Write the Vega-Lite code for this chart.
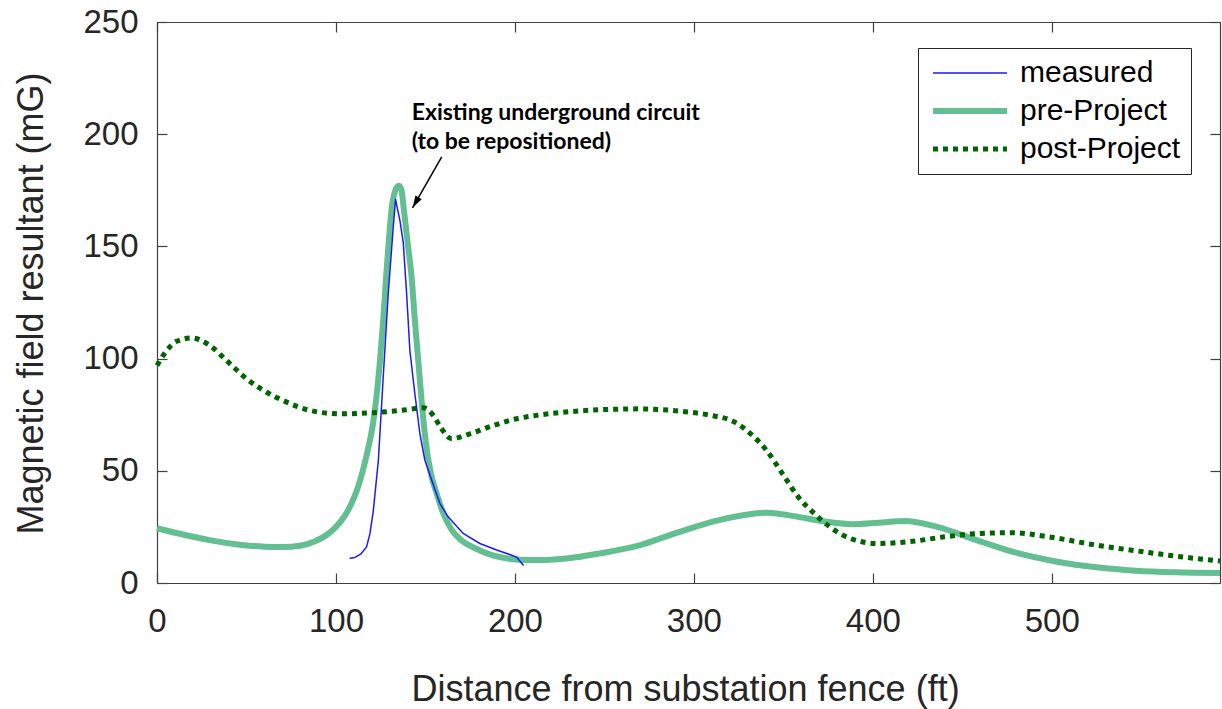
{
  "$schema": "https://vega.github.io/schema/vega-lite/v6.json",
  "width": 1063,
  "height": 561,
  "autosize": {"type": "none"},
  "padding": {"left": 157, "top": 22, "right": 2, "bottom": 126},
  "background": "white",
  "config": {
    "view": {"stroke": null},
    "axis": {
      "grid": false,
      "labelFlush": false,
      "labelOverlap": false,
      "domainColor": "#404040",
      "domainWidth": 1.2,
      "tickColor": "#404040",
      "tickWidth": 1.2,
      "tickSize": -10,
      "labelFont": "Liberation Sans",
      "labelFontSize": 33,
      "labelColor": "#262626",
      "titleFont": "Liberation Sans",
      "titleFontSize": 36,
      "titleFontWeight": "normal",
      "titleColor": "#262626"
    }
  },
  "datasets": {
    "pre": [
      {"series": "pre-Project", "distance": 0, "field": 24.4},
      {"series": "pre-Project", "distance": 15, "field": 21.5},
      {"series": "pre-Project", "distance": 30, "field": 19},
      {"series": "pre-Project", "distance": 45, "field": 17.2},
      {"series": "pre-Project", "distance": 60, "field": 16.2},
      {"series": "pre-Project", "distance": 70, "field": 16},
      {"series": "pre-Project", "distance": 80, "field": 16.6},
      {"series": "pre-Project", "distance": 88, "field": 18.5},
      {"series": "pre-Project", "distance": 95, "field": 21.5},
      {"series": "pre-Project", "distance": 100, "field": 25},
      {"series": "pre-Project", "distance": 105, "field": 30},
      {"series": "pre-Project", "distance": 109, "field": 36},
      {"series": "pre-Project", "distance": 112, "field": 42},
      {"series": "pre-Project", "distance": 115, "field": 50},
      {"series": "pre-Project", "distance": 118, "field": 60},
      {"series": "pre-Project", "distance": 120.5, "field": 70},
      {"series": "pre-Project", "distance": 122.5, "field": 82},
      {"series": "pre-Project", "distance": 124.6, "field": 99},
      {"series": "pre-Project", "distance": 126.5, "field": 118},
      {"series": "pre-Project", "distance": 128, "field": 136},
      {"series": "pre-Project", "distance": 129.5, "field": 152},
      {"series": "pre-Project", "distance": 131, "field": 166},
      {"series": "pre-Project", "distance": 133, "field": 174.5},
      {"series": "pre-Project", "distance": 135, "field": 177},
      {"series": "pre-Project", "distance": 136.5, "field": 175.5},
      {"series": "pre-Project", "distance": 138, "field": 166},
      {"series": "pre-Project", "distance": 140, "field": 152},
      {"series": "pre-Project", "distance": 142.3, "field": 136},
      {"series": "pre-Project", "distance": 144, "field": 118},
      {"series": "pre-Project", "distance": 146, "field": 99},
      {"series": "pre-Project", "distance": 148, "field": 80},
      {"series": "pre-Project", "distance": 150.3, "field": 62},
      {"series": "pre-Project", "distance": 153, "field": 49},
      {"series": "pre-Project", "distance": 156.2, "field": 40},
      {"series": "pre-Project", "distance": 160, "field": 31},
      {"series": "pre-Project", "distance": 164, "field": 24.5},
      {"series": "pre-Project", "distance": 170, "field": 19},
      {"series": "pre-Project", "distance": 177, "field": 15.8},
      {"series": "pre-Project", "distance": 185, "field": 13},
      {"series": "pre-Project", "distance": 195, "field": 11},
      {"series": "pre-Project", "distance": 205, "field": 10.3},
      {"series": "pre-Project", "distance": 215, "field": 10.2},
      {"series": "pre-Project", "distance": 230, "field": 11},
      {"series": "pre-Project", "distance": 247.5, "field": 13.2},
      {"series": "pre-Project", "distance": 270, "field": 16.9},
      {"series": "pre-Project", "distance": 292, "field": 22.8},
      {"series": "pre-Project", "distance": 314, "field": 28},
      {"series": "pre-Project", "distance": 330, "field": 30.5},
      {"series": "pre-Project", "distance": 341, "field": 31.3},
      {"series": "pre-Project", "distance": 358, "field": 29.5},
      {"series": "pre-Project", "distance": 374, "field": 27.3},
      {"series": "pre-Project", "distance": 389, "field": 26.2},
      {"series": "pre-Project", "distance": 403, "field": 26.8},
      {"series": "pre-Project", "distance": 418, "field": 27.6},
      {"series": "pre-Project", "distance": 436, "field": 25},
      {"series": "pre-Project", "distance": 458, "field": 19.1},
      {"series": "pre-Project", "distance": 480, "field": 13.5},
      {"series": "pre-Project", "distance": 503, "field": 9.5},
      {"series": "pre-Project", "distance": 525, "field": 7},
      {"series": "pre-Project", "distance": 547, "field": 5.5},
      {"series": "pre-Project", "distance": 569, "field": 4.8},
      {"series": "pre-Project", "distance": 594, "field": 4.5}
    ],
    "post": [
      {"series": "post-Project", "distance": 0, "field": 96.9},
      {"series": "post-Project", "distance": 5.4, "field": 103.6},
      {"series": "post-Project", "distance": 11, "field": 107.7},
      {"series": "post-Project", "distance": 19.4, "field": 109.2},
      {"series": "post-Project", "distance": 29.6, "field": 105.8},
      {"series": "post-Project", "distance": 38.9, "field": 99.1},
      {"series": "post-Project", "distance": 50.1, "field": 91},
      {"series": "post-Project", "distance": 61.3, "field": 85},
      {"series": "post-Project", "distance": 72.5, "field": 80.6},
      {"series": "post-Project", "distance": 85.5, "field": 76.9},
      {"series": "post-Project", "distance": 102, "field": 75.4},
      {"series": "post-Project", "distance": 120.8, "field": 75.9},
      {"series": "post-Project", "distance": 139.5, "field": 77.2},
      {"series": "post-Project", "distance": 148.8, "field": 78.1},
      {"series": "post-Project", "distance": 154.4, "field": 74.7},
      {"series": "post-Project", "distance": 159, "field": 68.7},
      {"series": "post-Project", "distance": 164.6, "field": 64.3},
      {"series": "post-Project", "distance": 174.9, "field": 66.5},
      {"series": "post-Project", "distance": 187.9, "field": 70.2},
      {"series": "post-Project", "distance": 201, "field": 73.2},
      {"series": "post-Project", "distance": 212, "field": 74.7},
      {"series": "post-Project", "distance": 230, "field": 76.3},
      {"series": "post-Project", "distance": 247.5, "field": 77.2},
      {"series": "post-Project", "distance": 269.7, "field": 77.6},
      {"series": "post-Project", "distance": 291.8, "field": 76.6},
      {"series": "post-Project", "distance": 309.5, "field": 74.7},
      {"series": "post-Project", "distance": 322.9, "field": 71.7},
      {"series": "post-Project", "distance": 331.7, "field": 66.5},
      {"series": "post-Project", "distance": 340.6, "field": 59.1},
      {"series": "post-Project", "distance": 349.5, "field": 48.7},
      {"series": "post-Project", "distance": 358.3, "field": 38.4},
      {"series": "post-Project", "distance": 367.2, "field": 31},
      {"series": "post-Project", "distance": 376, "field": 25},
      {"series": "post-Project", "distance": 387.2, "field": 19.9},
      {"series": "post-Project", "distance": 402.7, "field": 17.6},
      {"series": "post-Project", "distance": 420.4, "field": 18.4},
      {"series": "post-Project", "distance": 440.3, "field": 20.6},
      {"series": "post-Project", "distance": 460.3, "field": 22.1},
      {"series": "post-Project", "distance": 478, "field": 22.4},
      {"series": "post-Project", "distance": 498, "field": 20.6},
      {"series": "post-Project", "distance": 524.6, "field": 16.9},
      {"series": "post-Project", "distance": 551.2, "field": 13.9},
      {"series": "post-Project", "distance": 569, "field": 12},
      {"series": "post-Project", "distance": 594, "field": 9.8}
    ],
    "measured": [
      {"series": "measured", "distance": 108, "field": 11},
      {"series": "measured", "distance": 110.6, "field": 11.4},
      {"series": "measured", "distance": 114, "field": 13},
      {"series": "measured", "distance": 117.1, "field": 16.1},
      {"series": "measured", "distance": 119, "field": 22},
      {"series": "measured", "distance": 120.9, "field": 32.4},
      {"series": "measured", "distance": 123.7, "field": 54.7},
      {"series": "measured", "distance": 126.4, "field": 91.7},
      {"series": "measured", "distance": 129.2, "field": 128.8},
      {"series": "measured", "distance": 132, "field": 158.4},
      {"series": "measured", "distance": 133.3, "field": 171},
      {"series": "measured", "distance": 135.8, "field": 161.3},
      {"series": "measured", "distance": 137.6, "field": 151.7},
      {"series": "measured", "distance": 139.5, "field": 128.8},
      {"series": "measured", "distance": 141.3, "field": 103.6},
      {"series": "measured", "distance": 144.1, "field": 84.3},
      {"series": "measured", "distance": 146.9, "field": 66.5},
      {"series": "measured", "distance": 149.7, "field": 54.7},
      {"series": "measured", "distance": 153.5, "field": 45.8},
      {"series": "measured", "distance": 158.1, "field": 35.4},
      {"series": "measured", "distance": 162.7, "field": 29.5},
      {"series": "measured", "distance": 171.1, "field": 22.1},
      {"series": "measured", "distance": 180.4, "field": 17.6},
      {"series": "measured", "distance": 189.8, "field": 14.7},
      {"series": "measured", "distance": 198.2, "field": 12.4},
      {"series": "measured", "distance": 201, "field": 11.5},
      {"series": "measured", "distance": 204.6, "field": 8}
    ],
    "notes": [
      {"text": "Existing underground circuit", "distance": 142.3, "field": 206.5},
      {"text": "(to be repositioned)", "distance": 142.3, "field": 193.2}
    ],
    "arrow": [
      {"distance": 159.1, "field": 189.9, "distance2": 142.8, "field2": 167.2}
    ]
  },
  "layer": [
    {
      "data": {"name": "pre"},
      "mark": {"type": "line", "interpolate": "monotone", "strokeCap": "butt", "strokeWidth": 6},
      "encoding": {
        "x": {"field": "distance", "type": "quantitative", "scale": {"domain": [0, 594], "nice": false, "zero": false},
              "axis": {"orient": "bottom", "values": [0, 100, 200, 300, 400, 500], "title": "Distance from substation fence (ft)", "labelPadding": 32, "titleX": 528, "titleY": 117, "titleBaseline": "alphabetic", "titleAlign": "center", "titleAnchor": null}},
        "y": {"field": "field", "type": "quantitative", "scale": {"domain": [0, 250], "nice": false},
              "axis": {"orient": "left", "values": [0, 50, 100, 150, 200, 250], "title": "Magnetic field resultant (mG)", "labelPadding": 29, "titleX": -115, "titleY": 281, "titleAngle": -90, "titleBaseline": "alphabetic", "titleAlign": "center", "titleAnchor": null}},
        "color": {"field": "series", "type": "nominal",
                  "scale": {"domain": ["measured", "pre-Project", "post-Project"], "range": ["#1a1aff", "#63bf92", "#006400"]},
                  "legend": {"title": null, "orient": "none", "legendX": 761, "legendY": 26, "symbolType": "M-1,0H6.4", "symbolSize": 400, "labelOffset": 62, "labelFontSize": 30, "labelFont": "Liberation Sans", "labelColor": "#000000", "labelLimit": 400, "padding": 10, "rowPadding": 8, "strokeColor": "#262626", "fillColor": "white",
                             "encode": {"symbols": {"update": {
                               "strokeWidth": {"signal": "datum.value === 'measured' ? 1.5 : datum.value === 'pre-Project' ? 6 : 5"},
                               "strokeDash": {"signal": "datum.value === 'post-Project' ? [5, 5] : [1, 0]"},
                               "strokeCap": {"value": "butt"},
                               "fill": {"value": "transparent"},
                               "opacity": {"value": 1}
                             }}}}}
      }
    },
    {
      "data": {"name": "post"},
      "mark": {"type": "line", "interpolate": "monotone", "strokeCap": "butt", "strokeWidth": 5, "strokeDash": [5, 5]},
      "encoding": {
        "x": {"field": "distance", "type": "quantitative", "axis": null},
        "y": {"field": "field", "type": "quantitative", "axis": null},
        "color": {"field": "series", "type": "nominal"}
      }
    },
    {
      "data": {"name": "measured"},
      "mark": {"type": "line", "strokeCap": "round", "strokeJoin": "round", "strokeWidth": 1.5},
      "encoding": {
        "x": {"field": "distance", "type": "quantitative", "axis": null},
        "y": {"field": "field", "type": "quantitative", "axis": null},
        "color": {"field": "series", "type": "nominal"}
      }
    },
    {
      "data": {"name": "pre"},
      "mark": {"type": "point", "opacity": 0},
      "encoding": {
        "x": {"field": "distance", "type": "quantitative",
              "axis": {"orient": "top", "values": [0, 100, 200, 300, 400, 500], "labels": false, "title": null}},
        "y": {"field": "field", "type": "quantitative",
              "axis": {"orient": "right", "values": [0, 50, 100, 150, 200, 250], "labels": false, "title": null}}
      }
    },
    {
      "data": {"name": "arrow"},
      "mark": {"type": "rule", "color": "#000000", "strokeWidth": 1.5},
      "encoding": {
        "x": {"field": "distance", "type": "quantitative", "axis": null},
        "y": {"field": "field", "type": "quantitative", "axis": null},
        "x2": {"field": "distance2"},
        "y2": {"field": "field2"}
      }
    },
    {
      "data": {"name": "arrow"},
      "mark": {"type": "point", "shape": "M0,0L-0.6,2L0.6,2Z", "filled": true, "color": "#000000", "opacity": 1, "size": 144, "angle": 210},
      "encoding": {
        "x": {"field": "distance2", "type": "quantitative", "axis": null},
        "y": {"field": "field2", "type": "quantitative", "axis": null}
      }
    },
    {
      "data": {"name": "notes"},
      "mark": {"type": "text", "align": "left", "baseline": "alphabetic", "font": "Lato", "fontWeight": "bold", "fontSize": 23, "color": "#000000"},
      "encoding": {
        "x": {"field": "distance", "type": "quantitative", "axis": null},
        "y": {"field": "field", "type": "quantitative", "axis": null},
        "text": {"field": "text"}
      }
    }
  ],
  "resolve": {"axis": {"x": "independent", "y": "independent"}}
}
